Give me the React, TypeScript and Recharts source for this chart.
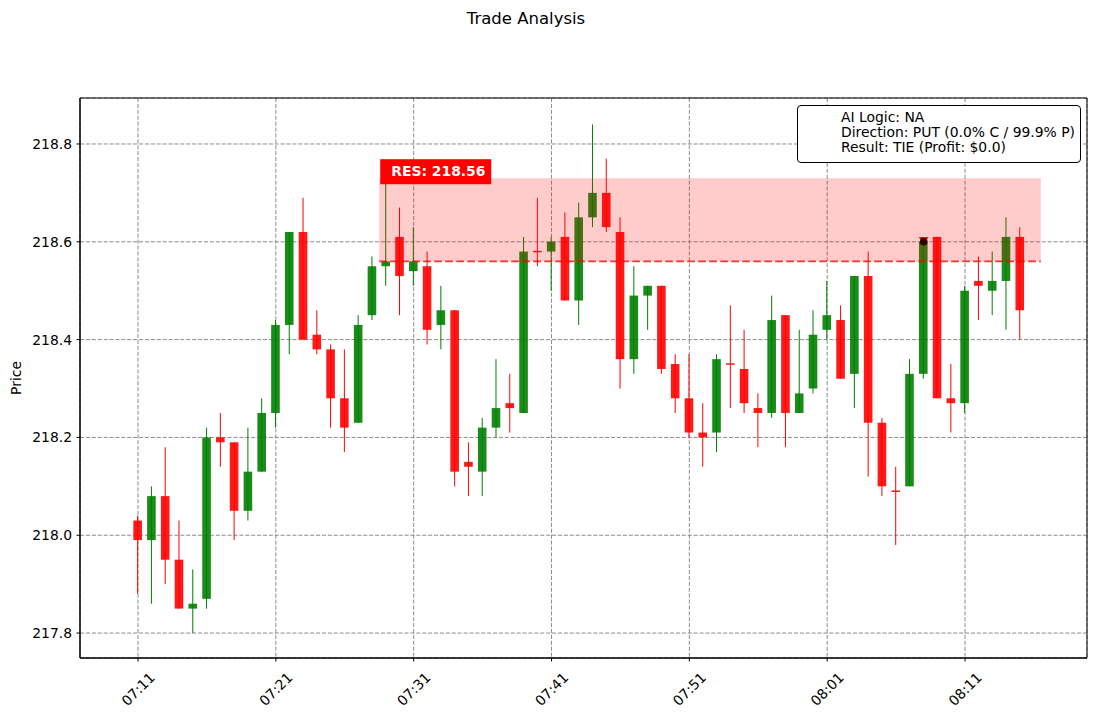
import React from 'react';
import {
  ComposedChart,
  Bar,
  XAxis,
  YAxis,
  CartesianGrid,
  ReferenceArea,
  ReferenceLine,
  ReferenceDot,
} from 'recharts';

// ---- data (one candle per minute, 07:11 .. 08:15) ----
const OPENS = [
  218.03, 217.99, 218.08, 217.95, 217.85, 217.87, 218.20, 218.19, 218.05, 218.13,
  218.25, 218.43, 218.62, 218.41, 218.38, 218.28, 218.23, 218.45, 218.55, 218.61,
  218.54, 218.55, 218.43, 218.46, 218.15, 218.13, 218.22, 218.27, 218.25, 218.58,
  218.58, 218.61, 218.48, 218.65, 218.70, 218.62, 218.36, 218.49, 218.51, 218.35,
  218.28, 218.21, 218.21, 218.35, 218.34, 218.26, 218.25, 218.45, 218.25, 218.30,
  218.42, 218.44, 218.33, 218.53, 218.23, 218.09, 218.10, 218.33, 218.61, 218.28,
  218.27, 218.52, 218.50, 218.52, 218.61,
];
const HIGHS = [
  218.04, 218.10, 218.18, 218.03, 217.93, 218.22, 218.25, 218.19, 218.22, 218.28,
  218.44, 218.62, 218.69, 218.46, 218.39, 218.38, 218.45, 218.57, 218.74, 218.67,
  218.63, 218.58, 218.51, 218.46, 218.19, 218.24, 218.36, 218.33, 218.61, 218.69,
  218.61, 218.66, 218.68, 218.84, 218.77, 218.65, 218.55, 218.51, 218.51, 218.37,
  218.37, 218.27, 218.37, 218.47, 218.42, 218.29, 218.49, 218.45, 218.42, 218.46,
  218.52, 218.47, 218.53, 218.58, 218.24, 218.14, 218.36, 218.61, 218.61, 218.35,
  218.51, 218.57, 218.58, 218.65, 218.63,
];
const LOWS = [
  217.88, 217.86, 217.90, 217.85, 217.80, 217.85, 218.14, 217.99, 218.03, 218.13,
  218.22, 218.37, 218.40, 218.37, 218.22, 218.17, 218.23, 218.44, 218.51, 218.45,
  218.51, 218.39, 218.38, 218.10, 218.08, 218.08, 218.20, 218.21, 218.25, 218.55,
  218.50, 218.48, 218.43, 218.63, 218.62, 218.30, 218.33, 218.42, 218.33, 218.25,
  218.20, 218.14, 218.17, 218.26, 218.25, 218.18, 218.24, 218.18, 218.25, 218.29,
  218.40, 218.32, 218.26, 218.12, 218.08, 217.98, 218.10, 218.32, 218.28, 218.21,
  218.25, 218.44, 218.45, 218.42, 218.40,
];
const CLOSES = [
  217.99, 218.08, 217.95, 217.85, 217.86, 218.20, 218.19, 218.05, 218.13, 218.25,
  218.43, 218.62, 218.40, 218.38, 218.28, 218.22, 218.43, 218.55, 218.56, 218.53,
  218.56, 218.42, 218.46, 218.13, 218.14, 218.22, 218.26, 218.26, 218.58, 218.58,
  218.60, 218.48, 218.65, 218.70, 218.63, 218.36, 218.49, 218.51, 218.34, 218.28,
  218.21, 218.20, 218.36, 218.35, 218.27, 218.25, 218.44, 218.25, 218.29, 218.41,
  218.45, 218.32, 218.53, 218.23, 218.10, 218.09, 218.33, 218.60, 218.28, 218.27,
  218.50, 218.51, 218.52, 218.61, 218.46,
];

const X_TICKS = [0, 10, 20, 30, 40, 50, 60];
const X_LABELS = ['07:11', '07:21', '07:31', '07:41', '07:51', '08:01', '08:11'];
const Y_TICKS = [217.8, 218.0, 218.2, 218.4, 218.6, 218.8];

const RES_LEVEL = 218.56;
const ZONE_TOP = 218.73;
const ZONE_START = 17.5;
const ZONE_END = 65.5;
const ENTRY_INDEX = 57;
const ENTRY_PRICE = 218.6;

const LEGEND_LINES = [
  'AI Logic: NA',
  'Direction: PUT (0.0% C / 99.9% P)',
  'Result: TIE (Profit: $0.0)',
];

const X_DOMAIN = [-4.21, 68.85];
const Y_DOMAIN = [217.749, 218.894];

const data = OPENS.map((o, i) => ({
  i,
  o,
  h: HIGHS[i],
  l: LOWS[i],
  c: CLOSES[i],
  range: [LOWS[i], HIGHS[i]],
}));

const FONT = 'DejaVu Sans, sans-serif';

const Candle = (props: any) => {
  const { x, y, width, height, payload } = props;
  if (x == null || y == null) return null;
  const cx = x + width / 2;
  const k = height / (payload.h - payload.l);
  const yO = y + (payload.h - payload.o) * k;
  const yC = y + (payload.h - payload.c) * k;
  const up = payload.c > payload.o;
  const line = up ? '#008000' : '#ff0000';
  const body = up ? 'rgba(0,128,0,0.9)' : 'rgba(255,0,0,0.9)';
  const top = Math.min(yO, yC);
  const bh = Math.abs(yC - yO);
  const bw = 8.6;
  return (
    <g>
      <line x1={cx} x2={cx} y1={y} y2={y + height} stroke={line} strokeWidth={1} />
      {bh < 1.2 ? (
        <rect x={cx - bw / 2} y={top - 0.75} width={bw} height={1.5} fill={body} />
      ) : (
        <rect x={cx - bw / 2} y={top} width={bw} height={bh} fill={body} />
      )}
    </g>
  );
};

const XTick = (props: any) => {
  const { x, y, payload } = props;
  const idx = X_TICKS.indexOf(payload.value);
  const cy = y + 25.5;
  return (
    <text
      x={x}
      y={cy}
      textAnchor="middle"
      dominantBaseline="central"
      fontSize={13.9}
      fontFamily={FONT}
      fill="#000"
      transform={`rotate(-45 ${x} ${cy})`}
    >
      {X_LABELS[idx]}
    </text>
  );
};

const ResLabel = (props: any) => {
  const vb = props.viewBox || {};
  const x = vb.x;
  const y = vb.y;
  if (x == null || y == null) return null;
  return (
    <g>
      <rect x={x + 1} y={y - 19} width={111} height={25} fill="#ff0000" />
      <text x={x + 12} y={y - 2} fill="#fff" fontWeight="bold" fontSize={13.9} fontFamily={FONT}>
        {`RES: ${RES_LEVEL.toFixed(2)}`}
      </text>
    </g>
  );
};

const EntryMarker = (props: any) => {
  const { cx, cy } = props;
  if (cx == null || cy == null) return null;
  return (
    <g>
      <path d={`M ${cx - 4.8} ${cy - 4.8} L ${cx + 4.8} ${cy - 4.8} L ${cx} ${cy + 4}`} fill="#ff0000" />
      <circle cx={cx} cy={cy} r={3.8} fill="#000" />
    </g>
  );
};

const PriceLabel = () => (
  <text
    x={16}
    y={378}
    textAnchor="middle"
    dominantBaseline="central"
    fontSize={13.9}
    fontFamily={FONT}
    fill="#000"
    transform="rotate(-90 16 378)"
  >
    Price
  </text>
);

export default function App() {
  return (
    <div
      style={{
        position: 'absolute',
        left: 0,
        top: 0,
        width: 1097,
        height: 716,
        background: '#fff',
        fontFamily: FONT,
      }}
    >
      <ComposedChart
        width={1097}
        height={716}
        data={data}
        margin={{ top: 98, right: 10, bottom: 18, left: 0 }}
      >
        <CartesianGrid
          xAxisId="x"
          yAxisId="y"
          stroke="#808080"
          strokeDasharray="4.1 1.8"
          strokeWidth={0.9}
          horizontalPoints={undefined}
        />
        <XAxis
          xAxisId="x"
          dataKey="i"
          type="number"
          domain={X_DOMAIN}
          ticks={X_TICKS}
          interval={0}
          allowDataOverflow
          height={40}
          tickSize={3.5}
          tickMargin={2}
          axisLine={{ stroke: '#000', strokeWidth: 1 }}
          tickLine={{ stroke: '#000' }}
          tick={<XTick />}
        />
        <YAxis
          yAxisId="y"
          type="number"
          domain={Y_DOMAIN}
          ticks={Y_TICKS}
          interval={0}
          allowDataOverflow
          width={80}
          tickSize={3.5}
          tickMargin={4.5}
          axisLine={{ stroke: '#000', strokeWidth: 1 }}
          tickLine={{ stroke: '#000' }}
          tick={{ fill: '#000', fontSize: 13.9, fontFamily: FONT }}
          tickFormatter={(v: number) => v.toFixed(1)}
          label={<PriceLabel />}
        />
        <Bar
          xAxisId="x"
          yAxisId="y"
          dataKey="range"
          barSize={9}
          shape={<Candle />}
          isAnimationActive={false}
        />
        <ReferenceDot
          xAxisId="x"
          yAxisId="y"
          x={ENTRY_INDEX}
          y={ENTRY_PRICE}
          shape={<EntryMarker />}
          ifOverflow="visible"
        />
        <ReferenceArea
          xAxisId="x"
          yAxisId="y"
          x1={ZONE_START}
          x2={ZONE_END}
          y1={RES_LEVEL}
          y2={ZONE_TOP}
          fill="#ff0000"
          fillOpacity={0.2}
          stroke="none"
          ifOverflow="visible"
          zIndex={800}
          label={<ResLabel />}
        />
        <ReferenceLine
          xAxisId="x"
          yAxisId="y"
          segment={[
            { x: ZONE_START, y: RES_LEVEL },
            { x: ZONE_END, y: RES_LEVEL },
          ]}
          stroke="#ff0000"
          strokeOpacity={0.8}
          strokeWidth={1.6}
          strokeDasharray="7.7 3.3"
          ifOverflow="visible"
          zIndex={850}
        />
        <ReferenceArea
          xAxisId="x"
          yAxisId="y"
          x1={X_DOMAIN[0]}
          x2={X_DOMAIN[1]}
          y1={Y_DOMAIN[0]}
          y2={Y_DOMAIN[1]}
          fill="none"
          fillOpacity={0}
          stroke="#000"
          strokeWidth={1}
          ifOverflow="visible"
          zIndex={900}
        />
      </ComposedChart>
      <svg
        width={1097}
        height={716}
        style={{ position: 'absolute', left: 0, top: 0, pointerEvents: 'none' }}
      >
        <text x={526} y={23.7} textAnchor="middle" fontSize={16.5} fontFamily={FONT} fill="#000">
          Trade Analysis
        </text>
        <rect x={797.5} y={105.5} width={283} height={57} rx={3.5} ry={3.5} fill="#fff" stroke="#000" strokeWidth={1} />
        {LEGEND_LINES.map((t, k) => (
          <text key={k} x={841} y={122 + k * 15} fontSize={13.9} fontFamily={FONT} fill="#000">
            {t}
          </text>
        ))}
      </svg>
    </div>
  );
}
